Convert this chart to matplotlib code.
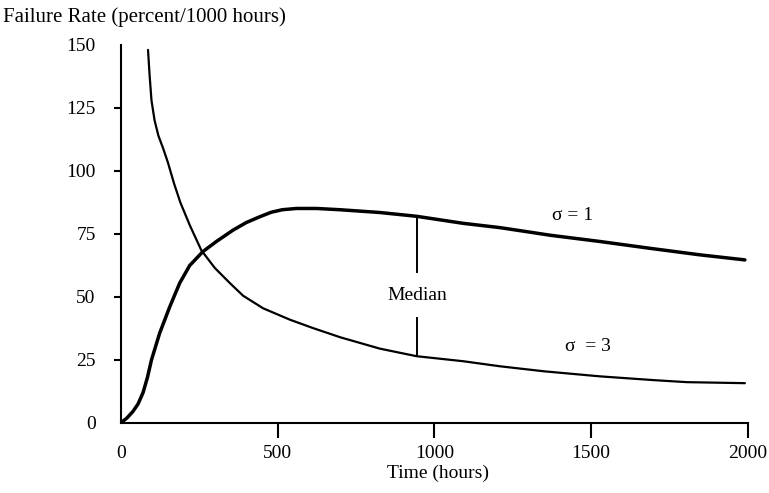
"""
plot.py

Failure rate curves for two lognormal shape values.
"""

import matplotlib

matplotlib.use("Agg")

import matplotlib.pyplot as plt

# sigma = 1 curve (hours, percent/1000 hours)
sigma1_hours = [0, 20, 39, 55, 71, 85, 98, 124, 156, 188, 220, 262, 305, 358,
                400, 443, 480, 515, 560, 624, 699, 826, 943, 1092, 1209, 1305,
                1368, 1528, 1687, 1847, 1990]
sigma1_rate = [0, 2, 4.6, 7.5, 12, 18, 25, 35.6, 46, 55.5, 62.5, 68, 72,
               76.5, 79.5, 81.8, 83.6, 84.6, 85.1, 85.1, 84.6, 83.5, 82,
               79.2, 77.5, 75.7, 74.5, 72, 69.3, 66.7, 64.7]

# sigma = 3 curve
sigma3_hours = [87, 92, 98, 108, 120, 135, 150, 170, 190, 220, 257, 300,
                348, 390, 454, 539, 612, 700, 826, 943, 1092, 1209, 1350,
                1528, 1700, 1805, 1990]
sigma3_rate = [148, 138, 128, 120, 114, 109, 103.5, 95, 87.5, 78.5, 68.5,
               61.5, 55.5, 50.5, 45.5, 41, 37.7, 34, 29.5, 26.5, 24.5,
               22.5, 20.5, 18.5, 17, 16.2, 15.8]

median_hours = 945
median_upper = [82, 60]
median_lower = [41.5, 26.5]

x_ticks = [0, 500, 1000, 1500, 2000]
y_ticks = [0, 25, 50, 75, 100, 125, 150]

plt.rcParams["font.family"] = ["Liberation Serif", "DejaVu Serif"]

fig = plt.figure(figsize=(7.69, 4.93), dpi=100)
ax = fig.add_axes([0.157, 0.142, 0.8157, 0.767])

ax.plot(sigma1_hours, sigma1_rate, color="black", linewidth=2.5,
        solid_capstyle="round", solid_joinstyle="round")
ax.plot(sigma3_hours, sigma3_rate, color="black", linewidth=1.6,
        solid_capstyle="round", solid_joinstyle="round")

ax.plot([median_hours, median_hours], median_upper, color="black", linewidth=1.4)
ax.plot([median_hours, median_hours], median_lower, color="black", linewidth=1.4)
ax.text(median_hours, 50.4, "Median", ha="center", va="center", fontsize=14)

ax.text(1442, 82.5, "σ = 1", ha="center", va="center", fontsize=14)
ax.text(1490, 30.2, "σ  = 3", ha="center", va="center", fontsize=14)

ax.set_xlim(0, 2000)
ax.set_ylim(0, 150)
ax.set_xticks(x_ticks)
ax.set_yticks(y_ticks)

for side in ["top", "right"]:
    ax.spines[side].set_visible(False)
for side in ["left", "bottom"]:
    ax.spines[side].set_linewidth(1.5)

ax.tick_params(axis="x", direction="out", length=11, width=1.5, pad=5,
               labelsize=14)
ax.tick_params(axis="y", direction="out", length=5, width=1.5, pad=13,
               labelsize=14)

# no marks at the corner and at the top
ax.xaxis.get_major_ticks()[0].tick1line.set_visible(False)
ax.yaxis.get_major_ticks()[0].tick1line.set_visible(False)
ax.yaxis.get_major_ticks()[-1].tick1line.set_visible(False)

fig.text(0.004, 0.9655, "Failure Rate (percent/1000 hours)", ha="left",
         va="center", fontsize=15)
fig.text(0.570, 0.040, "Time (hours)", ha="center", va="center", fontsize=14)

fig.savefig("out.png", dpi=100)
plt.close(fig)
